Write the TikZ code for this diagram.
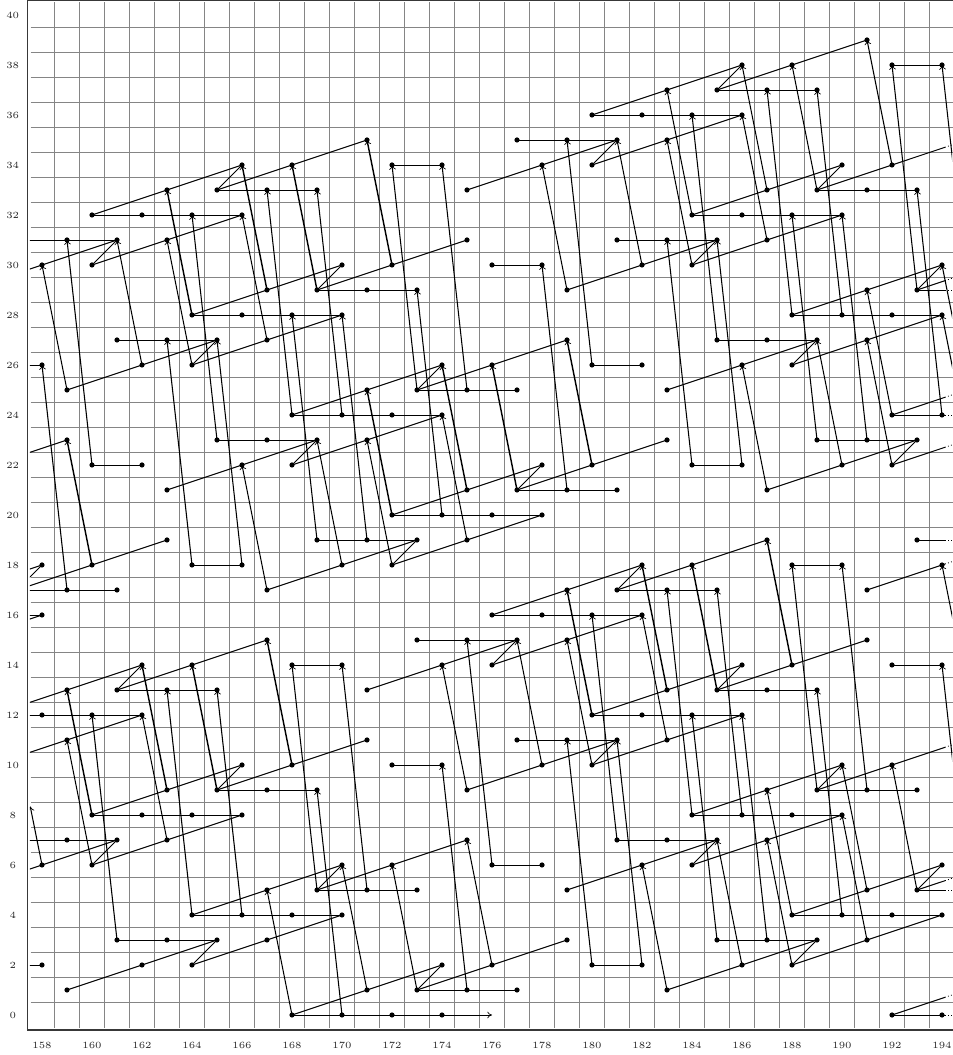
\documentclass[tikz,border=0pt]{standalone}
\usetikzlibrary{arrows.meta}
\tikzset{
  gridline/.style={line width=0.6pt,draw=black!48},
  frameline/.style={line width=0.8pt,draw=black!78},
  dot/.style={circle,fill=black,inner sep=0pt,minimum size=0.104cm},
  link/.style={line width=0.55pt,draw=black},
  steep/.style={line width=0.6pt,draw=black,-{Computer Modern Rightarrow[length=2.7pt,width=3.8pt,line width=0.4pt]}},
  boldsteep/.style={steep,line width=0.8pt},
  tail/.style={line width=0.45pt,draw=black,dash pattern=on 0.5pt off 1.3pt},
  axislabel/.style={inner sep=0pt,text=black!85,font=\fontsize{5.4}{6}\selectfont},
}
\begin{document}
\begin{tikzpicture}[x=0.5cm,y=0.5cm]
\useasboundingbox (-1.68,-1.6) rectangle (36.4,40.6);
% grid
\foreach \v in {0,...,36} \draw[gridline] ({\v+0.5},-0.5) -- ({\v+0.5},40.5);
\foreach \v in {0,...,39} \draw[gridline] (-0.45,{\v+0.5}) -- (36.5,{\v+0.5});
% frame
\draw[frameline] (37,-0.6) -- (-0.57,-0.6) -- (-0.57,40.58) -- (37,40.58);
% labels
\foreach \v in {158,160,...,194} \node[axislabel] (xl\v) at ({\v-158},-1.2) {\v};
\foreach \v in {0,2,...,40} \node[axislabel] (yl\v) at (-1.17,\v) {\v};
% dots
\foreach \j/\ks in {
39/{191},
38/{186,188,192,194},
37/{183,185,187,189},
36/{180,182,184,186},
35/{171,177,179,181,183},
34/{166,168,172,174,178,180,190,192},
33/{163,165,167,169,175,187,189,191,193},
32/{160,162,164,166,184,186,188,190},
31/{159,161,163,175,181,183,185,187},
30/{158,160,170,172,176,178,182,184,194},
29/{167,169,171,173,179,191,193},
28/{164,166,168,170,188,190,192,194},
27/{161,163,165,167,179,185,187,189,191},
26/{158,162,164,174,176,180,182,186,188},
25/{159,171,173,175,177,183},
24/{168,170,172,174,192,194},
23/{159,165,167,169,171,183,189,191,193},
22/{160,162,166,168,178,180,184,186,190,192},
21/{163,175,177,179,181,187},
20/{172,174,176,178},
19/{163,169,171,173,175,187,193},
18/{158,160,164,166,170,172,182,184,188,190,194},
17/{159,161,167,179,181,183,185,191},
16/{158,176,178,180,182},
15/{167,173,175,177,179,191},
14/{162,164,168,170,174,176,186,188,192,194},
13/{159,161,163,165,171,183,185,187,189},
12/{158,160,162,180,182,184,186},
11/{159,171,177,179,181,183},
10/{166,168,172,174,178,180,190,192},
9/{163,165,167,169,175,187,189,191,193},
8/{160,162,164,166,184,186,188,190},
7/{159,161,163,175,181,183,185,187},
6/{158,160,170,172,176,178,182,184,194},
5/{167,169,171,173,179,191,193},
4/{164,166,168,170,188,190,192,194},
3/{161,163,165,167,179,185,187,189,191},
2/{158,162,164,174,176,180,182,186,188},
1/{159,171,173,175,177,183},
0/{168,170,172,174,192,194}}
  \foreach \k in \ks \node[dot] (n\k-\j) at ({\k-158},\j) {};
% ends outside the frame
\foreach \k/\j in {155/29,157/31,156/26,156/22,157/17,155/17,156/16,155/15,156/12,156/10,157/7,155/5,156/2,
  195/23,195/25,195/13,195/29,195/5,176/0}
  \coordinate (n\k-\j) at ({\k-158},\j);
\coordinate (clipped) at (-0.47,8.34);
% lines that die away at the right
\foreach \n/\y/\w in {a/34.707/34.8,b/29.373/29.467,c/29/29,d/24.707/24.8,e/24/24,f/22.707/22.8,g/18.04/18.133,h/19/19,i/10.707/10.8,j/5.373/5.467,k/5/5,l/0.707/0.8,m/0/0}{
  \coordinate (s\n) at (36.12,\y);
  \coordinate (e\n) at (36.4,\w);
  \draw[tail] (s\n) -- (e\n);
}
\begin{scope}
\clip (-0.48,-1) rectangle (36.4,41);
\foreach \a/\b in {
160-32/163-33,163-33/166-34,165-33/166-34,165-33/168-34,168-34/171-35,165-33/167-33,167-33/169-33,160-32/162-32,162-32/164-32,164-32/166-32,160-30/163-31,163-31/166-32,160-30/161-31,155-29/158-30,158-30/161-31,157-31/159-31,159-31/161-31,
164-28/167-29,167-29/170-30,169-29/170-30,169-29/172-30,172-30/175-31,169-29/171-29,171-29/173-29,164-28/166-28,166-28/168-28,168-28/170-28,164-26/167-27,167-27/170-28,164-26/165-27,159-25/162-26,162-26/165-27,161-27/163-27,163-27/165-27,
168-24/171-25,171-25/174-26,173-25/174-26,173-25/176-26,176-26/179-27,173-25/175-25,175-25/177-25,168-24/170-24,170-24/172-24,172-24/174-24,168-22/171-23,171-23/174-24,168-22/169-23,163-21/166-22,166-22/169-23,165-23/167-23,167-23/169-23,
172-20/175-21,175-21/178-22,177-21/178-22,177-21/180-22,180-22/183-23,177-21/179-21,179-21/181-21,172-20/174-20,174-20/176-20,176-20/178-20,172-18/175-19,175-19/178-20,172-18/173-19,167-17/170-18,170-18/173-19,169-19/171-19,171-19/173-19,
176-16/179-17,179-17/182-18,181-17/182-18,181-17/184-18,184-18/187-19,181-17/183-17,183-17/185-17,176-16/178-16,178-16/180-16,180-16/182-16,176-14/179-15,179-15/182-16,176-14/177-15,171-13/174-14,174-14/177-15,173-15/175-15,175-15/177-15,
180-12/183-13,183-13/186-14,185-13/186-14,185-13/188-14,188-14/191-15,185-13/187-13,187-13/189-13,180-12/182-12,182-12/184-12,184-12/186-12,180-10/183-11,183-11/186-12,180-10/181-11,175-9/178-10,178-10/181-11,177-11/179-11,179-11/181-11,
184-8/187-9,187-9/190-10,189-9/190-10,189-9/192-10,189-9/191-9,191-9/193-9,184-8/186-8,186-8/188-8,188-8/190-8,184-6/187-7,187-7/190-8,184-6/185-7,179-5/182-6,182-6/185-7,181-7/183-7,183-7/185-7,
188-4/191-5,191-5/194-6,193-5/194-6,188-4/190-4,190-4/192-4,192-4/194-4,188-2/191-3,191-3/194-4,188-2/189-3,183-1/186-2,186-2/189-3,185-3/187-3,187-3/189-3,
192-0/194-0,
155-17/158-18,157-17/158-18,157-17/160-18,160-18/163-19,157-17/159-17,159-17/161-17,156-16/158-16,155-15/158-16,
156-12/159-13,159-13/162-14,161-13/162-14,161-13/164-14,164-14/167-15,161-13/163-13,163-13/165-13,156-12/158-12,158-12/160-12,160-12/162-12,156-10/159-11,159-11/162-12,
160-8/163-9,163-9/166-10,165-9/166-10,165-9/168-10,168-10/171-11,165-9/167-9,167-9/169-9,160-8/162-8,162-8/164-8,164-8/166-8,160-6/163-7,163-7/166-8,160-6/161-7,155-5/158-6,158-6/161-7,157-7/159-7,159-7/161-7,
164-4/167-5,167-5/170-6,169-5/170-6,169-5/172-6,172-6/175-7,169-5/171-5,171-5/173-5,164-4/166-4,166-4/168-4,168-4/170-4,164-2/167-3,167-3/170-4,164-2/165-3,159-1/162-2,162-2/165-3,161-3/163-3,163-3/165-3,
168-0/171-1,171-1/174-2,173-1/174-2,173-1/176-2,176-2/179-3,173-1/175-1,175-1/177-1,168-0/170-0,170-0/172-0,172-0/174-0,
180-36/183-37,183-37/186-38,185-37/186-38,185-37/188-38,188-38/191-39,185-37/187-37,187-37/189-37,180-36/182-36,182-36/184-36,184-36/186-36,180-34/183-35,183-35/186-36,180-34/181-35,175-33/178-34,178-34/181-35,177-35/179-35,179-35/181-35,
184-32/187-33,187-33/190-34,189-33/190-34,189-33/192-34,189-33/191-33,191-33/193-33,184-32/186-32,186-32/188-32,188-32/190-32,184-30/187-31,187-31/190-32,184-30/185-31,179-29/182-30,182-30/185-31,181-31/183-31,183-31/185-31,
188-28/191-29,191-29/194-30,193-29/194-30,188-28/190-28,190-28/192-28,192-28/194-28,188-26/191-27,191-27/194-28,188-26/189-27,183-25/186-26,186-26/189-27,185-27/187-27,187-27/189-27,
192-24/194-24,192-22/193-23,187-21/190-22,190-22/193-23,189-23/191-23,191-23/193-23,
191-17/194-18,156-22/159-23,
172-34/174-34,176-30/178-30,180-26/182-26,184-22/186-22,188-18/190-18,192-14/194-14,192-38/194-38,156-26/158-26,160-22/162-22,164-18/166-18,168-14/170-14,172-10/174-10,176-6/178-6,180-2/182-2,156-2/158-2}
  \draw[link] (n\a.center) -- (n\b.center);
% to the dying ends
\foreach \a/\b in {192-34/sa,193-29/sb,193-29/sc,192-24/sd,194-24/se,192-22/sf,194-18/sg,193-19/sh,192-10/si,193-5/sj,193-5/sk,192-0/sl,194-0/sm}
  \draw[link] (n\a.center) -- (\b);
% steep arrows: from lower end to upper end
\foreach \a/\b in {
164-28/163-33,167-29/166-34,169-29/168-34,172-30/171-35,
172-20/171-25,175-21/174-26,177-21/176-26,180-22/179-27,
180-12/179-17,183-13/182-18,185-13/184-18,188-14/187-19,
160-8/159-13,163-9/162-14,165-9/164-14,168-10/167-15,
160-18/159-23}
  \draw[boldsteep] (n\a.center) -- (n\b.center);
\foreach \a/\b in {
184-32/183-37,187-33/186-38,189-33/188-38,192-34/191-39,
159-25/158-30,162-26/161-31,164-26/163-31,167-27/166-32,
167-17/166-22,170-18/169-23,172-18/171-23,175-19/174-24,
175-9/174-14,178-10/177-15,180-10/179-15,183-11/182-16,
184-30/183-35,187-31/186-36,179-29/178-34,182-30/181-35,
187-21/186-26,190-22/189-27,192-22/191-27,195-23/194-28,
160-6/159-11,163-7/162-12,
171-1/170-6,173-1/172-6,176-2/175-7,168-0/167-5,
191-5/190-10,193-5/192-10,188-4/187-9,
186-2/185-7,188-2/187-7,183-1/182-6,191-3/190-8,
192-24/191-29,195-25/194-30,195-13/194-18,
160-22/159-31,165-23/164-32,168-24/167-33,170-24/169-33,
164-18/163-27,166-18/165-27,169-19/168-28,171-19/170-28,174-20/173-29,
159-17/158-26,
173-25/172-34,175-25/174-34,179-21/178-30,180-26/179-35,
185-27/184-36,188-28/187-37,190-28/189-37,193-29/192-38,195-29/194-38,
189-23/188-32,191-23/190-32,194-24/193-33,184-22/183-31,186-22/185-31,
181-7/180-16,176-6/175-15,184-8/183-17,186-8/185-17,189-9/188-18,191-9/190-18,195-5/194-14,
185-3/184-12,187-3/186-12,190-4/189-13,
161-3/160-12,164-4/163-13,166-4/165-13,169-5/168-14,171-5/170-14,170-0/169-9,175-1/174-10,180-2/179-11,182-2/181-11}
  \draw[steep] (n\a.center) -- (n\b.center);
\draw[steep] (n158-6.center) -- (clipped);
\draw[link,-{Computer Modern Rightarrow[length=2.7pt,width=3.8pt,line width=0.4pt]}] (n174-0.center) -- (n176-0);
\end{scope}
\end{tikzpicture}
\end{document}
